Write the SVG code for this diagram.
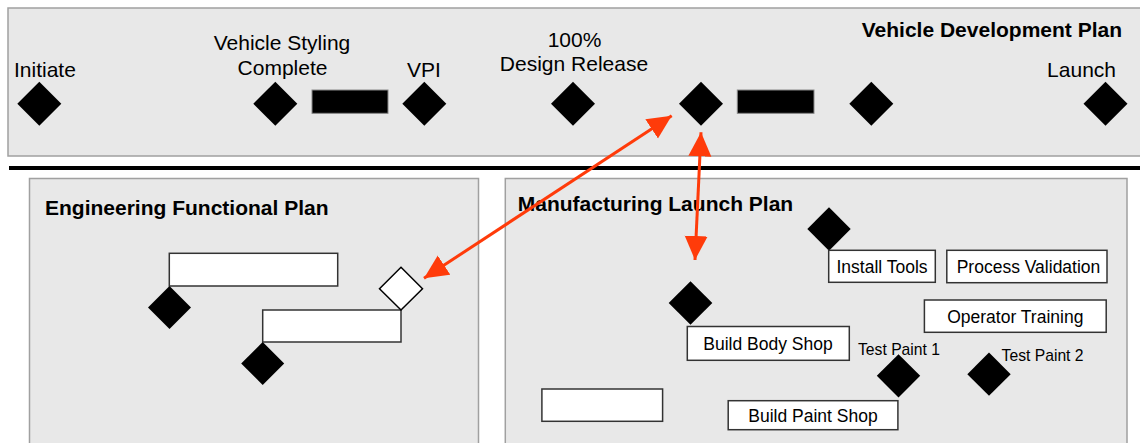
<svg xmlns="http://www.w3.org/2000/svg" width="1140" height="443" viewBox="0 0 1140 443">
<defs>
<marker id="ah" markerUnits="userSpaceOnUse" markerWidth="26" markerHeight="24" refX="24" refY="11.5" orient="auto-start-reverse" viewBox="0 0 26 24">
<path d="M0,0 L24,11.5 L0,23 z" fill="#ff3b0a"/>
</marker>
</defs>
<style>
.panel{fill:#e8e8e8;stroke:#a0a0a0;stroke-width:1.5}
.ms{fill:#000}
.bar{fill:#000;stroke:#888;stroke-width:1}
.box{fill:#fff;stroke:#333;stroke-width:1.5}
.open{fill:#fff;stroke:#000;stroke-width:1.5}
.lbl{font-family:"Liberation Sans",Arial,sans-serif;font-size:21px;fill:#000}
.ttl{font-family:"Liberation Sans",Arial,sans-serif;font-size:21px;font-weight:bold;fill:#000}
.bt{font-family:"Liberation Sans",Arial,sans-serif;font-size:17.5px;fill:#000;text-anchor:middle}
.sm{font-family:"Liberation Sans",Arial,sans-serif;font-size:15.7px;fill:#000}
.arr{stroke:#ff3b0a;stroke-width:3;fill:none;marker-start:url(#ah);marker-end:url(#ah)}
</style>

<g id="vehicle-development-plan">
<rect class="panel" x="8" y="8" width="1140" height="148"/>
<text class="ttl" x="1122" y="37" text-anchor="end">Vehicle Development Plan</text>
</g>
<rect id="divider" x="9" y="166" width="1131" height="4" fill="#000"/>

<g id="initiate">
<text class="lbl" x="14" y="77">Initiate</text>
<polygon class="ms" points="39.3,81.7 61.3,103.7 39.3,125.7 17.3,103.7"/>
</g>
<g id="vehicle-styling-complete">
<text class="lbl" x="282" y="50" text-anchor="middle">Vehicle Styling</text>
<text class="lbl" x="282.5" y="75" text-anchor="middle">Complete</text>
<polygon class="ms" points="275.3,81.7 297.3,103.7 275.3,125.7 253.3,103.7"/>
</g>
<g id="bar-1"><rect class="bar" x="312" y="90" width="76" height="23.3"/></g>
<g id="vpi">
<text class="lbl" x="424" y="77" text-anchor="middle">VPI</text>
<polygon class="ms" points="424.3,81.7 446.3,103.7 424.3,125.7 402.3,103.7"/>
</g>
<g id="design-release">
<text class="lbl" x="574.5" y="46.7" text-anchor="middle">100%</text>
<text class="lbl" x="574" y="70.7" text-anchor="middle">Design Release</text>
<polygon class="ms" points="573,81.7 595,103.7 573,125.7 551,103.7"/>
</g>
<g id="milestone-5"><polygon class="ms" points="701,81.7 723,103.7 701,125.7 679,103.7"/></g>
<g id="bar-2"><rect class="bar" x="737.3" y="90" width="76.7" height="23.3"/></g>
<g id="milestone-6"><polygon class="ms" points="871.3,81.7 893.3,103.7 871.3,125.7 849.3,103.7"/></g>
<g id="launch">
<text class="lbl" x="1116" y="77.3" text-anchor="end">Launch</text>
<polygon class="ms" points="1105.5,81.7 1127.5,103.7 1105.5,125.7 1083.5,103.7"/>
</g>

<g id="engineering-functional-plan">
<rect class="panel" x="29.5" y="178.5" width="449" height="280"/>
<text class="ttl" x="45" y="215">Engineering Functional Plan</text>
</g>
<g id="eng-task-1">
<rect class="box" x="169.3" y="253.3" width="168.4" height="32.7"/>
<polygon class="ms" points="169.5,286 191,307.5 169.5,329 148,307.5"/>
</g>
<g id="eng-task-2">
<rect class="box" x="262.7" y="310" width="138.3" height="32"/>
<polygon class="ms" points="262.7,342 284.2,363.5 262.7,385 241.2,363.5"/>
</g>
<g id="eng-open-milestone">
<polygon class="open" points="401,267.3 422.5,288.7 401,310 379.5,288.7"/>
</g>

<g id="manufacturing-launch-plan">
<rect class="panel" x="505.3" y="178.5" width="621.7" height="280"/>
<text class="ttl" x="517.8" y="210.7">Manufacturing Launch Plan</text>
</g>
<g id="install-tools">
<polygon class="ms" points="829,207.3 850.7,229 829,250.7 807.3,229"/>
<rect class="box" x="828.7" y="250.3" width="106.6" height="32"/>
<text class="bt" x="882" y="272.7">Install Tools</text>
</g>
<g id="process-validation">
<rect class="box" x="946.8" y="250.3" width="160.2" height="32.4"/>
<text class="bt" x="1028.5" y="273">Process Validation</text>
</g>
<g id="operator-training">
<rect class="box" x="924.4" y="300" width="181.8" height="32.3"/>
<text class="bt" x="1015.3" y="322.7">Operator Training</text>
</g>
<g id="build-body-shop">
<polygon class="ms" points="690.5,281.3 712.3,303 690.5,324.7 668.7,303"/>
<rect class="box" x="687.3" y="326.5" width="162" height="33.8"/>
<text class="bt" x="768" y="350">Build Body Shop</text>
</g>
<g id="test-paint-1">
<text class="sm" x="858" y="355">Test Paint 1</text>
<polygon class="ms" points="898.5,354.2 920.2,375.8 898.5,397.4 876.8,375.8"/>
</g>
<g id="test-paint-2">
<text class="sm" x="1001.6" y="361">Test Paint 2</text>
<polygon class="ms" points="989,352.6 1010.7,374.2 989,395.8 967.3,374.2"/>
</g>
<g id="mfg-empty-task">
<rect class="box" x="541.9" y="389" width="120.7" height="32.3"/>
</g>
<g id="build-paint-shop">
<rect class="box" x="728.2" y="400.7" width="169.7" height="29"/>
<text class="bt" x="813" y="421.7">Build Paint Shop</text>
</g>

<g id="connectors">
<line class="arr" x1="671.7" y1="115.7" x2="424" y2="278.3"/>
<line class="arr" x1="701" y1="132.3" x2="695" y2="260"/>
</g>
</svg>
